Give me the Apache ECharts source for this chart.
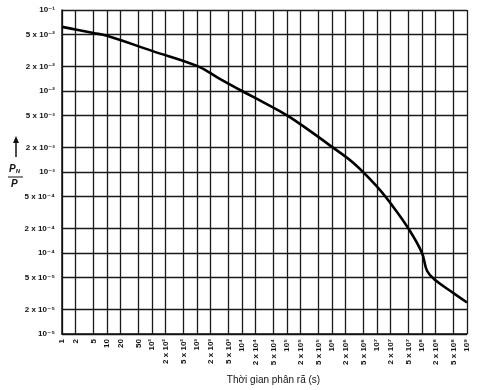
<!DOCTYPE html>
<html>
<head>
<meta charset="utf-8">
<script src="https://cdn.jsdelivr.net/npm/echarts@6/dist/echarts.min.js"></script>
<style>
html, body { margin: 0; padding: 0; background: #fff; }
#main { width: 478px; height: 390px; }
</style>
</head>
<body>
<div id="main"></div>
<script>
// thời gian phân rã (s) và tỉ số P_N / P đọc từ đồ thị
var times  = [1, 2, 5, 10, 100, 1000, 3000, 1e4, 3e4, 1e5, 3e5, 1e6, 3e6, 1e7, 2e7, 5e7, 1e8, 1.3e8, 2e8, 5e8, 1e9];
var ratios = [0.0619, 0.0575, 0.052, 0.0481, 0.0313, 0.0204, 0.01445, 0.0100, 0.00724, 0.00501, 0.00331, 0.00204, 0.00129, 0.00066, 0.00041, 0.0002, 0.0001, 0.00006, 0.000046, 0.000032, 0.0000245];

// vạch chia 1, 2, 5 mỗi thập phân
var xTicks = [1, 2, 5, 10, 20, 50, 1e2, 2e2, 5e2, 1e3, 2e3, 5e3, 1e4, 2e4, 5e4, 1e5, 2e5, 5e5, 1e6, 2e6, 5e6, 1e7, 2e7, 5e7, 1e8, 2e8, 5e8, 1e9];
var yTicks = [1e-5, 2e-5, 5e-5, 1e-4, 2e-4, 5e-4, 1e-3, 2e-3, 5e-3, 1e-2, 2e-2, 5e-2, 1e-1];

var sup = {'0':'⁰','1':'¹','2':'²','3':'³','4':'⁴','5':'⁵','6':'⁶','7':'⁷','8':'⁸','9':'⁹','-':'⁻'};
function toSup(n) {
	return String(n).split('').map(function(c){ return sup[c]; }).join('');
}
function sciLabel(v, plainSmall) {
	var e = Math.floor(Math.log10(v) + 1e-9);
	var m = Math.round(v / Math.pow(10, e));
	if (plainSmall && e < 2) return String(Math.round(v));
	var p = '10' + toSup(e);
	return m === 1 ? p : m + ' x ' + p;
}

var data = times.map(function(t, i){ return [t, ratios[i]]; });

var myChart = echarts.init(document.getElementById('main'));
var font = "'Liberation Sans', 'DejaVu Sans', sans-serif";
var gridLine = { show: true, lineStyle: { color: '#1a1a1a', width: 1.3 } };

var option = {
	animation: false,
	grid: { left: 62, right: 11, top: 10, bottom: 50 },
	xAxis: {
		type: 'log', logBase: 10, min: 1, max: 1e9,
		name: 'Thời gian phân rã (s)',
		nameLocation: 'middle', nameGap: 41,
		nameTextStyle: { fontFamily: font, fontSize: 10, color: '#111', padding: [0, 0, 0, 18] },
		axisLine: { show: true, lineStyle: { color: '#111', width: 1.5 } },
		axisTick: { show: false, customValues: xTicks },
		axisLabel: {
			customValues: xTicks, rotate: 90, margin: 5,
			fontFamily: font, fontSize: 8, fontWeight: 'bold', color: '#111',
			formatter: function(v){ return sciLabel(v, true); }
		},
		splitLine: gridLine
	},
	yAxis: {
		type: 'log', logBase: 10, min: 1e-5, max: 1e-1,
		axisLine: { show: true, lineStyle: { color: '#111', width: 1.5 } },
		axisTick: { show: false, customValues: yTicks },
		axisLabel: {
			customValues: yTicks, margin: 7,
			fontFamily: font, fontSize: 8, fontWeight: 'bold', color: '#111',
			formatter: function(v){ return sciLabel(v, false); }
		},
		splitLine: gridLine
	},
	graphic: [
		{ type: 'line', shape: { x1: 16, y1: 157, x2: 16, y2: 141 }, style: { stroke: '#111', lineWidth: 1.5 } },
		{ type: 'polygon', shape: { points: [[13, 143], [19, 143], [16, 136]] }, style: { fill: '#111' } },
		{ type: 'text', left: 9, top: 164, style: { text: '{p|P}{n|N}', rich: { p: { fontFamily: font, fontSize: 10, fontStyle: 'italic', fontWeight: 'bold', fill: '#111' }, n: { fontFamily: font, fontSize: 6, fontStyle: 'italic', fontWeight: 'bold', fill: '#111', padding: [5, 0, 0, 0] } } } },
		{ type: 'line', shape: { x1: 8, y1: 177, x2: 23, y2: 177 }, style: { stroke: '#111', lineWidth: 1 } },
		{ type: 'text', left: 11, top: 179, style: { text: 'P', fontFamily: font, fontSize: 10, fontStyle: 'italic', fontWeight: 'bold', fill: '#111' } }
	],
	series: [{
		type: 'line',
		data: data,
		smooth: 0.4,
		symbol: 'none',
		lineStyle: { color: '#000', width: 2.6 },
		z: 5
	}]
};

myChart.setOption(option);
</script>
</body>
</html>
